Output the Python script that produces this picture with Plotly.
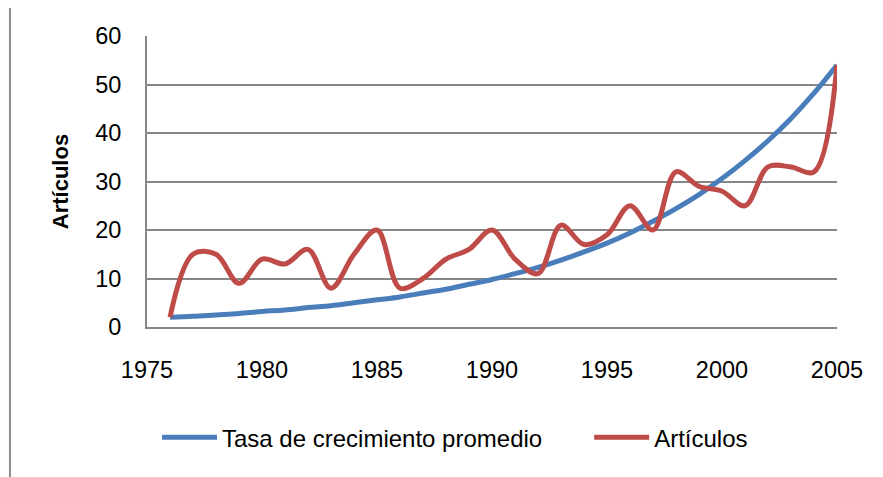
import plotly.graph_objects as go

years = list(range(1976, 2006))
tasa_crecimiento = [2.0, 2.2, 2.5, 2.8, 3.2, 3.5, 4.0, 4.4, 5.0, 5.6,
                    6.2, 7.0, 7.8, 8.8, 9.8, 11.0, 12.3, 13.8, 15.5, 17.3,
                    19.4, 21.8, 24.4, 27.3, 30.6, 34.3, 38.4, 43.0, 48.2, 54.0]
articulos = [2, 15, 15, 9, 14, 13, 16, 8, 15, 20,
             8, 10, 14, 16, 20, 14, 11, 21, 17, 19,
             25, 20, 32, 29, 28, 25, 33, 33, 32, 54]
x_ticks = [1975, 1980, 1985, 1990, 1995, 2000, 2005]
y_ticks = [0, 10, 20, 30, 40, 50, 60]

FONT = "Liberation Sans, Arial, sans-serif"
GRID = "#868686"

# page body has an 8px default margin; margins compensate for it
fig = go.Figure()
fig.add_trace(go.Scatter(x=years, y=tasa_crecimiento, mode="lines",
                         name="Tasa de crecimiento promedio\u2003\u2002\u2005",
                         line=dict(color="#4A7EBB", width=5, shape="spline", smoothing=1)))
fig.add_trace(go.Scatter(x=years, y=articulos, mode="lines",
                         name="Artículos",
                         line=dict(color="#BE4B48", width=5, shape="spline", smoothing=1)))

fig.update_layout(
    width=883, height=477,
    margin=dict(l=139, r=54, t=28, b=158),
    paper_bgcolor="white", plot_bgcolor="white",
    font=dict(family=FONT, size=23.5, color="black"),
    showlegend=True,
    legend=dict(orientation="h", x=0.0145, xanchor="left", y=-0.38, yanchor="middle",
                font=dict(size=24), itemwidth=55, traceorder="normal"),
    xaxis=dict(range=[1975, 2005], tickvals=x_ticks, showgrid=False,
               showline=True, linecolor=GRID, linewidth=2, ticks="",
               ticklabelstandoff=21, zeroline=False),
    yaxis=dict(range=[0, 60], tickvals=y_ticks, showgrid=True, gridcolor=GRID, gridwidth=1.5,
               showline=True, linecolor=GRID, linewidth=2, ticks="",
               ticklabelstandoff=19, zeroline=False,
               title=dict(text="<b>Artículos</b>", font=dict(size=22), standoff=20)),
    shapes=[dict(type="rect", xref="paper", yref="paper",
                 x0=-0.1986, x1=1.2, y0=-0.6, y1=1.0997,
                 line=dict(color="#8C8C8C", width=2), layer="below")],
)

fig.write_html("out.html")
